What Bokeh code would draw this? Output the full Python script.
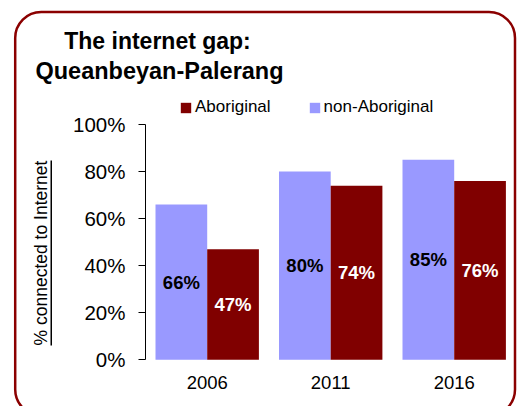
import math
from bokeh.plotting import figure
from bokeh.models import (ColumnDataSource, Range1d, FixedTicker, PrintfTickFormatter,
                          Label, BoxAnnotation, Legend, LegendItem)
from bokeh.transform import dodge
from bokeh.core.properties import value
from bokeh.embed import file_html
from bokeh.resources import INLINE

# ---- data ----
years = ["2006", "2011", "2016"]
non_aboriginal = [66, 80, 85]
aboriginal = [47, 74, 76]
y_ticks = [0, 20, 40, 60, 80, 100]

FONT = "Liberation Sans"
NON_COLOR = "#9999FF"
ABO_COLOR = "#800000"
BORDER_COLOR = "#8B0000"

W, H = 520, 406
# ranges chosen so that the frame covers the whole canvas and the plot area
# (categories, 0-100 %) sits where it does in the reference
X0, X1 = -1.6737, 2.5368
Y0, Y1 = -19.85, 152.70


def dx(px):
    return X0 + px * (X1 - X0) / W


def dy(py):
    return Y1 - py * (Y1 - Y0) / H


idx = list(range(len(years)))
src = ColumnDataSource(dict(
    x=idx,
    year=years,
    non=non_aboriginal,
    abo=aboriginal,
    non_mid=[v / 2 for v in non_aboriginal],
    abo_mid=[v / 2 for v in aboriginal],
    non_lbl=[f"{v}%" for v in non_aboriginal],
    abo_lbl=[f"{v}%" for v in aboriginal],
))

p = figure(width=W, height=H, output_backend="svg", toolbar_location=None,
           x_range=Range1d(X0, X1), y_range=Range1d(Y0, Y1),
           min_border=0)
p.title.visible = False
p.outline_line_color = None
p.xgrid.visible = False
p.ygrid.visible = False
p.background_fill_color = "white"
p.border_fill_color = "white"

BW = 0.4186
r_non = p.vbar(x=dodge("x", -BW / 2, range=p.x_range), top="non", width=BW, source=src,
               fill_color=NON_COLOR, line_color=None)
r_abo = p.vbar(x=dodge("x", BW / 2, range=p.x_range), top="abo", width=BW, source=src,
               fill_color=ABO_COLOR, line_color=None)

p.text(x=dodge("x", -BW / 2, range=p.x_range), y="non_mid", text="non_lbl", source=src,
       text_font=value(FONT), text_font_style="bold", text_font_size="18.5px",
       text_color="black", text_align="center", text_baseline="middle")
p.text(x=dodge("x", BW / 2, range=p.x_range), y="abo_mid", text="abo_lbl", source=src,
       text_font=value(FONT), text_font_style="bold", text_font_size="18.5px",
       text_color="white", text_align="center", text_baseline="middle")

# x axis (fixed at 0 %)
xa = p.xaxis[0]
xa.fixed_location = 0
xa.ticker = FixedTicker(ticks=idx)
xa.major_label_overrides = {i: y for i, y in zip(idx, years)}
xa.axis_line_color = None
xa.major_tick_line_color = None
xa.minor_tick_line_color = None
xa.major_tick_out = 0
xa.major_tick_in = 0
xa.major_label_standoff = 16
xa.major_label_text_font = FONT
xa.major_label_text_font_size = "18.5px"
xa.major_label_text_color = "black"

# y axis (fixed at left edge of the first category)
ya = p.yaxis[0]
ya.fixed_location = -0.5
ya.bounds = (0, 100)
ya.ticker = FixedTicker(ticks=y_ticks)
ya.formatter = PrintfTickFormatter(format="%d%%")
ya.axis_line_color = "black"
ya.axis_line_width = 1
ya.major_tick_line_color = "black"
ya.major_tick_out = 7
ya.major_tick_in = 0
ya.minor_tick_line_color = None
ya.major_label_standoff = 13
ya.major_label_text_font = FONT
ya.major_label_text_font_size = "20.5px"
ya.major_label_text_color = "black"

# y axis title (with underline)
p.add_layout(Label(x=dx(40), y=dy(252.5), angle=math.pi / 2,
                   text="% connected to Internet", text_font=FONT, text_font_size="17.5px",
                   text_color="black", text_align="center", text_baseline="alphabetic"))
p.add_layout(BoxAnnotation(left=dx(50), right=dx(51.5), top=dy(160), bottom=dy(345),
                           fill_color="black", fill_alpha=1, line_color=None))

# title
p.add_layout(Label(x=dx(157), y=dy(40),
                   text="The internet gap:", text_font=FONT, text_font_style="bold",
                   text_font_size="23px", text_color="black", text_align="center",
                   text_baseline="alphabetic"))
p.add_layout(Label(x=dx(159), y=dy(70),
                   text="Queanbeyan-Palerang", text_font=FONT, text_font_style="bold",
                   text_font_size="23.5px", text_color="black", text_align="center",
                   text_baseline="alphabetic"))

# legend
legend = Legend(items=[LegendItem(label="Aboriginal", renderers=[r_abo]),
                       LegendItem(label="non-Aboriginal", renderers=[r_non])],
                orientation="horizontal", location=(179, H - 117),
                label_text_font=FONT, label_text_font_size="17px", label_text_color="black",
                glyph_width=13, glyph_height=13, label_standoff=3, spacing=37,
                padding=0, margin=0, border_line_color=None, background_fill_alpha=0)
p.add_layout(legend)

# rounded chart border
p.add_layout(BoxAnnotation(left=dx(14.7), right=dx(514.5), top=dy(11.5), bottom=dy(415),
                           fill_alpha=0, line_color=BORDER_COLOR, line_alpha=1,
                           line_width=2.5, border_radius=26))

open("out.html", "w").write(file_html(p, INLINE))
